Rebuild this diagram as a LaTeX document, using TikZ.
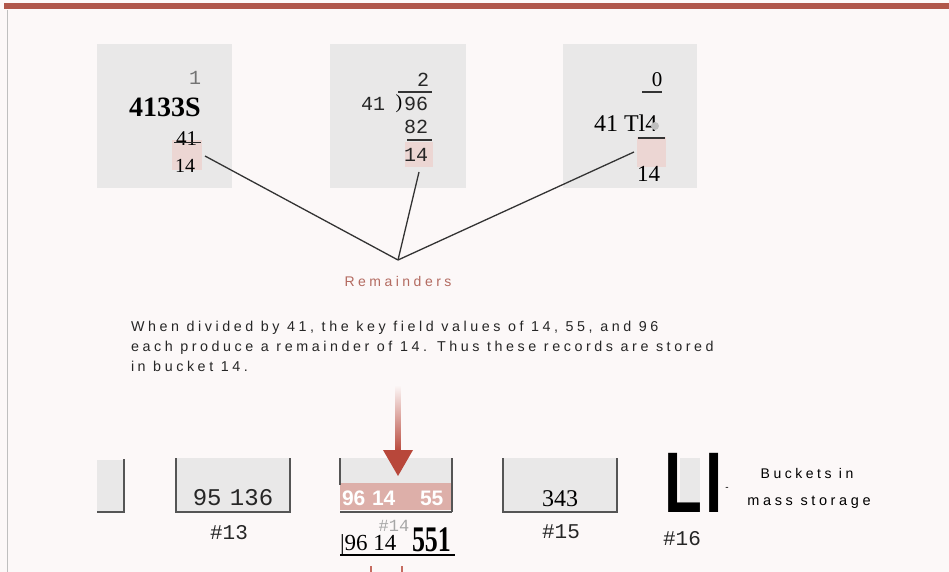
\documentclass[tikz,border=0pt]{standalone}
\usepackage{fontspec}
\setmainfont{Liberation Serif}
\setsansfont{Liberation Sans}
\setmonofont{Liberation Mono}
\newfontfamily\spaced[LetterSpace=25]{Liberation Sans}
\definecolor{bg}{HTML}{FCF8F8}
\definecolor{barred}{HTML}{B0564A}
\definecolor{boxgray}{HTML}{E9E8E8}
\definecolor{pinkhl}{HTML}{ECD6D3}
\definecolor{band}{HTML}{DDAFA9}
\definecolor{remred}{HTML}{B36A60}
\definecolor{arrred}{HTML}{B8473A}
\definecolor{wall}{HTML}{555555}
\tikzset{
  every node/.style={inner sep=0pt, outer sep=0pt},
  panel/.style={fill=boxgray, draw=none},
  hl/.style={fill=pinkhl, draw=none},
  mono/.style={font=\ttfamily\fontsize{20}{22}\selectfont, text=black!85},
  lbl/.style={font=\ttfamily\fontsize{21}{23}\selectfont, text=black!85, anchor=base},
  conn/.style={draw=black!80, line width=1.3pt},
  bucketwall/.style={draw=wall, line width=1.6pt},
  divline/.style={draw=black!80, line width=1.3pt},
  para/.style={font=\spaced\fontsize{14.3}{17}\selectfont, anchor=base west, text=black!85},
  keytxt/.style={font=\sffamily\bfseries\fontsize{21}{23}\selectfont, text=white, anchor=base west},
}
\begin{document}
\begin{tikzpicture}[x=1pt,y=-1pt]
\fill[bg] (0,0) rectangle (949,572);
\useasboundingbox (0,0) rectangle (949,572);
% frame
\fill[barred] (4,3) rectangle (949,9);
\draw[black!25, line width=1pt] (7,10) -- (7,572);

% ---- panel 1
\fill[panel] (97,44) rectangle (232,188);
\fill[hl] (172,140) rectangle (202,170);
\node[mono, text=black!55, anchor=base] (p1q) at (195,85) {1};
\node[font=\bfseries\fontsize{28}{30}\selectfont, anchor=base west] (p1a) at (129,117) {4133S};
\node[font=\fontsize{21}{23}\selectfont, anchor=base west] (p1b) at (176,146) {41};
\draw[black!85, line width=1pt] (174,143) -- (201,143);
\node[font=\fontsize{20}{22}\selectfont, anchor=base west] (p1r) at (175,172) {14};

% ---- panel 2
\fill[panel] (330,44) rectangle (466,188);
\fill[hl] (405,142) rectangle (433,167);
\node[mono, anchor=base] (p2q) at (423,87) {2};
\draw[divline] (398,92) -- (432,92);
\node[mono, anchor=base west] (p2d) at (361,111) {41};
\node[font=\fontsize{20}{22}\selectfont, anchor=base] (p2p) at (399,109) {)};
\node[mono, anchor=base west] (p2n) at (404,111) {96};
\node[mono, anchor=base west] (p2s) at (404,134) {82};
\draw[divline] (407,140) -- (432,140);
\node[mono, anchor=base west] (p2r) at (404,161) {14};

% ---- panel 3
\fill[panel] (563,44) rectangle (697,188);
\fill[hl] (637,137) rectangle (666,167);
\node[font=\fontsize{21}{23}\selectfont, anchor=base] (p3q) at (657,87) {0};
\draw[divline] (642,92) -- (662,92);
\node[font=\fontsize{24}{26}\selectfont, anchor=base west] (p3a) at (594,132) {41 Tl4};
\fill[black!25] (655,126) circle (4);
\draw[divline] (638,138) -- (665,138);
\node[font=\fontsize{23}{25}\selectfont, anchor=base west] (p3r) at (637,182) {14};

% ---- connectors
\coordinate (rem) at (398,260);
\coordinate (c1) at (205,156);
\coordinate (c2) at (419,172);
\coordinate (c3) at (634,152);
\draw[conn] (c1) -- (rem);
\draw[conn] (c2) -- (rem);
\draw[conn] (c3) -- (rem);
\node[font=\spaced\fontsize{14}{16}\selectfont, text=remred, anchor=base] (remlbl) at (398,286) {Remainders};

% ---- paragraph
\node[para] (l1) at (131,331) {When divided by 41, the key field values of 14, 55, and 96};
\node[para] (l2) at (131,351) {each produce a remainder of 14. Thus these records are stored};
\node[para] (l3) at (131,371) {in bucket 14.};

% ---- buckets
% partial
\fill[boxgray] (97,460) rectangle (124,512);
\draw[bucketwall] (124,459) -- (124,512) -- (97,512);
% 13
\fill[boxgray] (176,458) rectangle (290,512);
\draw[bucketwall] (176,458) -- (176,512) -- (290,512) -- (290,458);
\node[mono, font=\ttfamily\fontsize{24}{26}\selectfont, anchor=base] (b13) at (233,505) {95\kern-6pt{} 136};
\node[lbl] (n13) at (229,539) {\#13};
% 14
\fill[boxgray] (340,458) rectangle (452,483);
\fill[band] (340,483) rectangle (452,510);
\draw[bucketwall] (340,458) -- (340,485);
\draw[bucketwall] (452,458) -- (452,512);
\draw[bucketwall] (340,512) -- (452,512);
\node[keytxt] (k96) at (342,505) {96};
\node[keytxt] (k14) at (372,505) {14};
\node[keytxt] (k55) at (420,505) {55};
\node[font=\ttfamily\fontsize{17}{19}\selectfont, text=black!35, anchor=base] (n14) at (394,531) {\#14};
\node[font=\fontsize{23}{25}\selectfont, anchor=base west] (u1) at (340,550) {|96 14};
\node[font=\bfseries\fontsize{36}{38}\selectfont, anchor=base west, xscale=0.72] (u2) at (412,551) {551};
\draw[black, line width=2pt] (340,555) -- (455,555);
% 15
\fill[boxgray] (503,458) rectangle (617,512);
\draw[bucketwall] (503,458) -- (503,512) -- (617,512) -- (617,458);
\node[font=\fontsize{24}{26}\selectfont, anchor=base] (b15) at (560,506) {343};
\node[lbl] (n15) at (561,538) {\#15};
% 16
\fill[boxgray] (680,458) rectangle (700,510);
\node[font=\sffamily\bfseries\fontsize{86}{88}\selectfont, anchor=base west, xscale=0.72] (b16) at (664,512) {L\kern5pt I};
\node[font=\sffamily\fontsize{10}{12}\selectfont, anchor=base] (dash) at (727,490) {-};
\node[lbl] (n16) at (682,545) {\#16};
\node[font=\spaced\fontsize{14}{16}\selectfont, anchor=base] (bk1) at (807,478) {Buckets in};
\node[font=\spaced\fontsize{14.5}{16}\selectfont, anchor=base] (bk2) at (809,505) {mass storage};

% ---- arrow (over bucket 14)
\coordinate (atop) at (398,385);
\coordinate (atip) at (398,476);
\shade[top color=bg, bottom color=arrred] (395.5,385) rectangle (400.5,452);
\fill[arrred] (383,450) -- (413,450) -- (atip) -- cycle;

% bottom fragments
\draw[arrred!80, line width=1.5pt] (371,566) -- (371,572);
\draw[arrred!80, line width=1.5pt] (402,566) -- (402,572);
\end{tikzpicture}
\end{document}
